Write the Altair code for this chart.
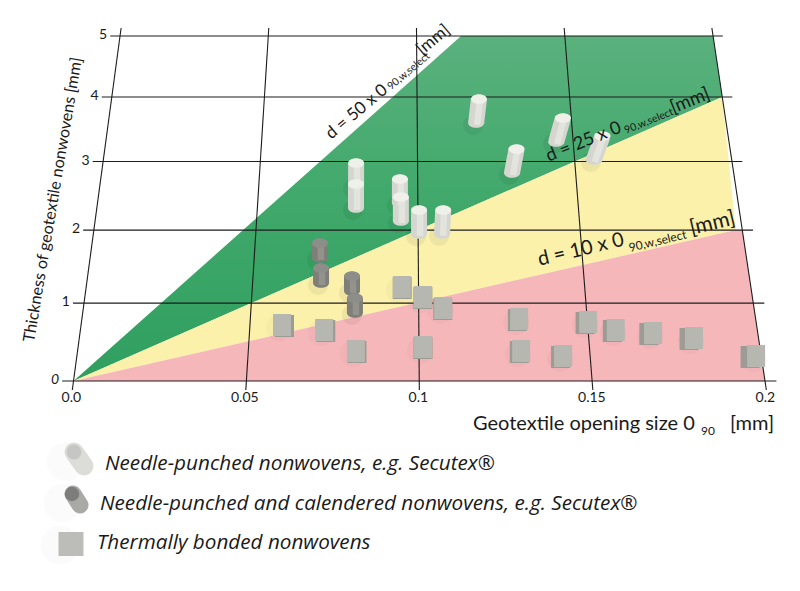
import altair as alt
import pandas as pd

# ---- data values (opening size O90 in mm, thickness d in mm) ----
x_ticks = [0.0, 0.05, 0.1, 0.15, 0.2]
x_tick_labels = ["0.0", "0.05", "0.1", "0.15", "0.2"]
y_ticks = [0, 1, 2, 3, 4, 5]

needle_o = [0.0806, 0.0807, 0.0944, 0.0947, 0.1003, 0.1074, 0.1191, 0.1299, 0.1446, 0.1562]
needle_d = [2.665, 2.359, 2.431, 2.172, 1.988, 1.988, 3.636, 2.873, 3.342, 3.068]

calendered_o = [0.0700, 0.0706, 0.0800, 0.0810]
calendered_d = [1.652, 1.310, 1.202, 0.909]

thermal_o = [0.0595, 0.0720, 0.0815, 0.0950, 0.1013, 0.1073, 0.1298, 0.1502, 0.1582,
             0.1691, 0.1810, 0.1985, 0.1012, 0.1299, 0.1421]
thermal_d = [0.7125, 0.6476, 0.3776, 1.2156, 1.0817, 0.9356, 0.7909, 0.7517, 0.6476,
             0.6087, 0.5442, 0.3140, 0.4287, 0.3776, 0.3140]

# zone outlines: thickness levels with left and right opening size
green_d = [0, 4, 5]
green_left = [0, 0.092, 0.115]
green_right = [0, 0.2, 0.2]
yellow_d = [0, 2, 4]
yellow_left = [0, 0.1, 0.2]
yellow_right = [0, 0.198, 0.2]
red_d = [0, 2]
red_left = [0, 0.198]
red_right = [0.2, 0.2]

legend_labels = ["Needle-punched nonwovens, e.g. Secutex®",
                 "Needle-punched and calendered nonwovens, e.g. Secutex®",
                 "Thermally bonded nonwovens"]

ELLIPSE = "M-1,0 A1,0.6 0 1,1 1,0 A1,0.6 0 1,1 -1,0 Z"


# ---- oblique view of the plane ----
def wdiv(d):
    return 1 + 0.0332 * d


def sx(o, d):
    return (73.5 + 3457.5 * o + 13.29 * d) / wdiv(d)


def sy(d):
    return (381 - 67.8 * d) / wdiv(d)


X = alt.Scale(domain=[8, 792], range=[0, 784], nice=False, zero=False)
Y = alt.Scale(domain=[8, 583], range=[0, 575], nice=False, zero=False)


def ex(f="x"):
    return alt.X(f"{f}:Q", scale=X, axis=None)


def ey(f="y"):
    return alt.Y(f"{f}:Q", scale=Y, axis=None)


layers = []


def zone(ds, ls, rs, color):
    df = pd.DataFrame({"y": [sy(d) for d in ds],
                       "x": [sx(o, d) for o, d in zip(ls, ds)],
                       "x2": [sx(o, d) for o, d in zip(rs, ds)]})
    return alt.Chart(df).mark_area(orient="horizontal", color=color, opacity=1, line=False).encode(
        y=ey(), x=ex(), x2=alt.X2("x2:Q"))


green_fill = alt.Gradient(gradient="linear", x1=0, y1=0, x2=0, y2=1, stops=[
    alt.GradientStop(color="#5ab17d", offset=0),
    alt.GradientStop(color="#3fa86a", offset=0.5),
    alt.GradientStop(color="#2f9f5f", offset=1)])
layers.append(zone(green_d, green_left, green_right, green_fill))
layers.append(zone(yellow_d, yellow_left, yellow_right, "#fbf1aa"))
layers.append(zone(red_d, red_left, red_right, "#f6b7ba"))


def segs(rows):
    return pd.DataFrame(rows, columns=["x", "y", "x2", "y2"])


def rules(rows, **mark):
    return alt.Chart(segs(rows)).mark_rule(**mark).encode(
        x=ex(), y=ey(), x2=alt.X2("x2:Q"), y2=alt.Y2("y2:Q"))


grid = []
for t in y_ticks:
    grid.append((sx(-0.0033, t), sy(t), sx(0.2033, t), sy(t)))
for t in x_ticks:
    grid.append((sx(t, -0.111), sy(-0.111), sx(t, 5.136), sy(5.136)))
layers.append(rules(grid, color="#1c1c1c", strokeWidth=1.1))


def points(rows, **mark):
    return alt.Chart(pd.DataFrame(rows, columns=["x", "y"])).mark_circle(**mark).encode(x=ex(), y=ey())


def ellipses(rows, size, color):
    return alt.Chart(pd.DataFrame(rows, columns=["x", "y"])).mark_point(
        shape=ELLIPSE, filled=True, size=size, color=color, opacity=1, strokeWidth=0).encode(x=ex(), y=ey())


def cylinders(os_, ds, height, body, top, width, shade):
    bars, tops, bases, shadows, lights = [], [], [], [], []
    for o, d in zip(os_, ds):
        bx, by = sx(o, d), sy(d) + 3
        tx, ty = bx + max(0, bx - 420) * 0.05, by - height
        bars.append((bx, by, tx, ty))
        bases.append((bx, by))
        lights.append((bx + 1, by + 2, tx + 1, ty))
        tops.append((tx, ty))
        shadows.append((bx - 3, by + 2))
    return [
        points(shadows, size=width * width * 1.6, color="#000000", opacity=0.05),
        ellipses(bases, width * width, body),
        rules(bars, color=body, strokeWidth=width),
        rules(lights, color=shade, strokeWidth=width * 0.4),
        ellipses(tops, width * width, top),
    ]


layers += cylinders(needle_o, needle_d, 24, "#d6d6d0", "#f0f0eb", 16, "#e4e4df")
layers += cylinders(calendered_o, calendered_d, 15, "#7f7f79", "#8d8d89", 16, "#93938c")

faces, sides, shadows = [], [], []
for o, d in zip(thermal_o, thermal_d):
    cx, cy = sx(o, d), sy(d)
    off = (420 - cx) * 0.018
    faces.append((cx, cy - 11, cx, cy + 11))
    sides.append((cx + off, cy - 10, cx + off, cy + 12))
    shadows.append((cx - 3, cy + 3))
layers.append(points(shadows, size=700, color="#000000", opacity=0.025))
layers.append(rules(sides, color="#9c9c94", strokeWidth=19))
layers.append(rules(faces, color="#b7b7b2", strokeWidth=18))


def text(rows, **mark):
    df = pd.DataFrame(rows, columns=["x", "y", "t"])
    base = dict(font="Lato", color="#1a1a1a", align="left", baseline="middle")
    base.update(mark)
    return alt.Chart(df).mark_text(**base).encode(x=ex(), y=ey(), text="t:N")


# tick labels
for t in y_ticks:
    layers.append(text([(sx(-0.0033, t) - 3, sy(t) - 1, str(t))], align="right", fontSize=14,
                       fontStyle="italic" if t == 0 else "normal"))
layers.append(text([(sx(t, -0.111) - 1, 398, lab) for t, lab in zip(x_ticks, x_tick_labels)],
                   align="center", fontSize=14))

# axis titles
layers.append(text([(29, 342, "Thickness of geotextile nonwovens [mm]")], angle=279.6, fontSize=16.2))
layers.append(text([(473, 424, "Geotextile opening size 0")], fontSize=20))
layers.append(text([(701, 431, "90")], fontSize=12))
layers.append(text([(730, 424, "[mm]")], fontSize=20))

# line labels
layers.append(text([(328, 136, "d = 50 x 0")], angle=320, fontSize=17))
layers.append(text([(389, 88, "90,w,select")], angle=320, fontSize=10.5))
layers.append(text([(419, 52, "[mm]")], angle=320, fontSize=17))

layers.append(text([(547, 157, "d = 25 x 0")], angle=338, fontSize=18))
layers.append(text([(625, 131, "90,w,select")], angle=338, fontSize=10.5))
layers.append(text([(671, 108, "[mm]")], angle=338, fontSize=18.5))

layers.append(text([(538, 260, "d = 10 x 0")], angle=346.6, fontSize=20))
layers.append(text([(629, 248, "90,w,select")], angle=346.6, fontSize=12))
layers.append(text([(690, 229, "[mm]")], angle=346.6, fontSize=21))

# legend
layers.append(points([(66, 462), (63, 503), (60, 545)], size=1500, color="#000000", opacity=0.015))
layers.append(rules([(74, 452, 84, 466)], color="#dcdcd9", strokeWidth=19, strokeCap="round"))
layers.append(points([(74, 452)], size=220, color="#c6c6c4", opacity=1))
layers.append(rules([(73, 494, 80, 505)], color="#a9a9a6", strokeWidth=17, strokeCap="round"))
layers.append(points([(72, 494)], size=210, color="#7d7d7b", opacity=1))
layers.append(rules([(71, 532, 71, 556)], color="#bcbcb9", strokeWidth=25))

layers.append(text([(105, 464, legend_labels[0])], fontSize=20.7, fontStyle="italic", font="Open Sans"))
layers.append(text([(100, 504, legend_labels[1])], fontSize=20.7, fontStyle="italic", font="Open Sans"))
layers.append(text([(97, 543, legend_labels[2])], fontSize=20.7, fontStyle="italic", font="Open Sans"))

chart = alt.layer(*layers).properties(
    width=784, height=575, padding=0, autosize=alt.AutoSizeParams(type="none"), background="#ffffff"
).configure_view(stroke=None)

chart.save("out.html", embed_options={"renderer": "svg", "actions": False})
